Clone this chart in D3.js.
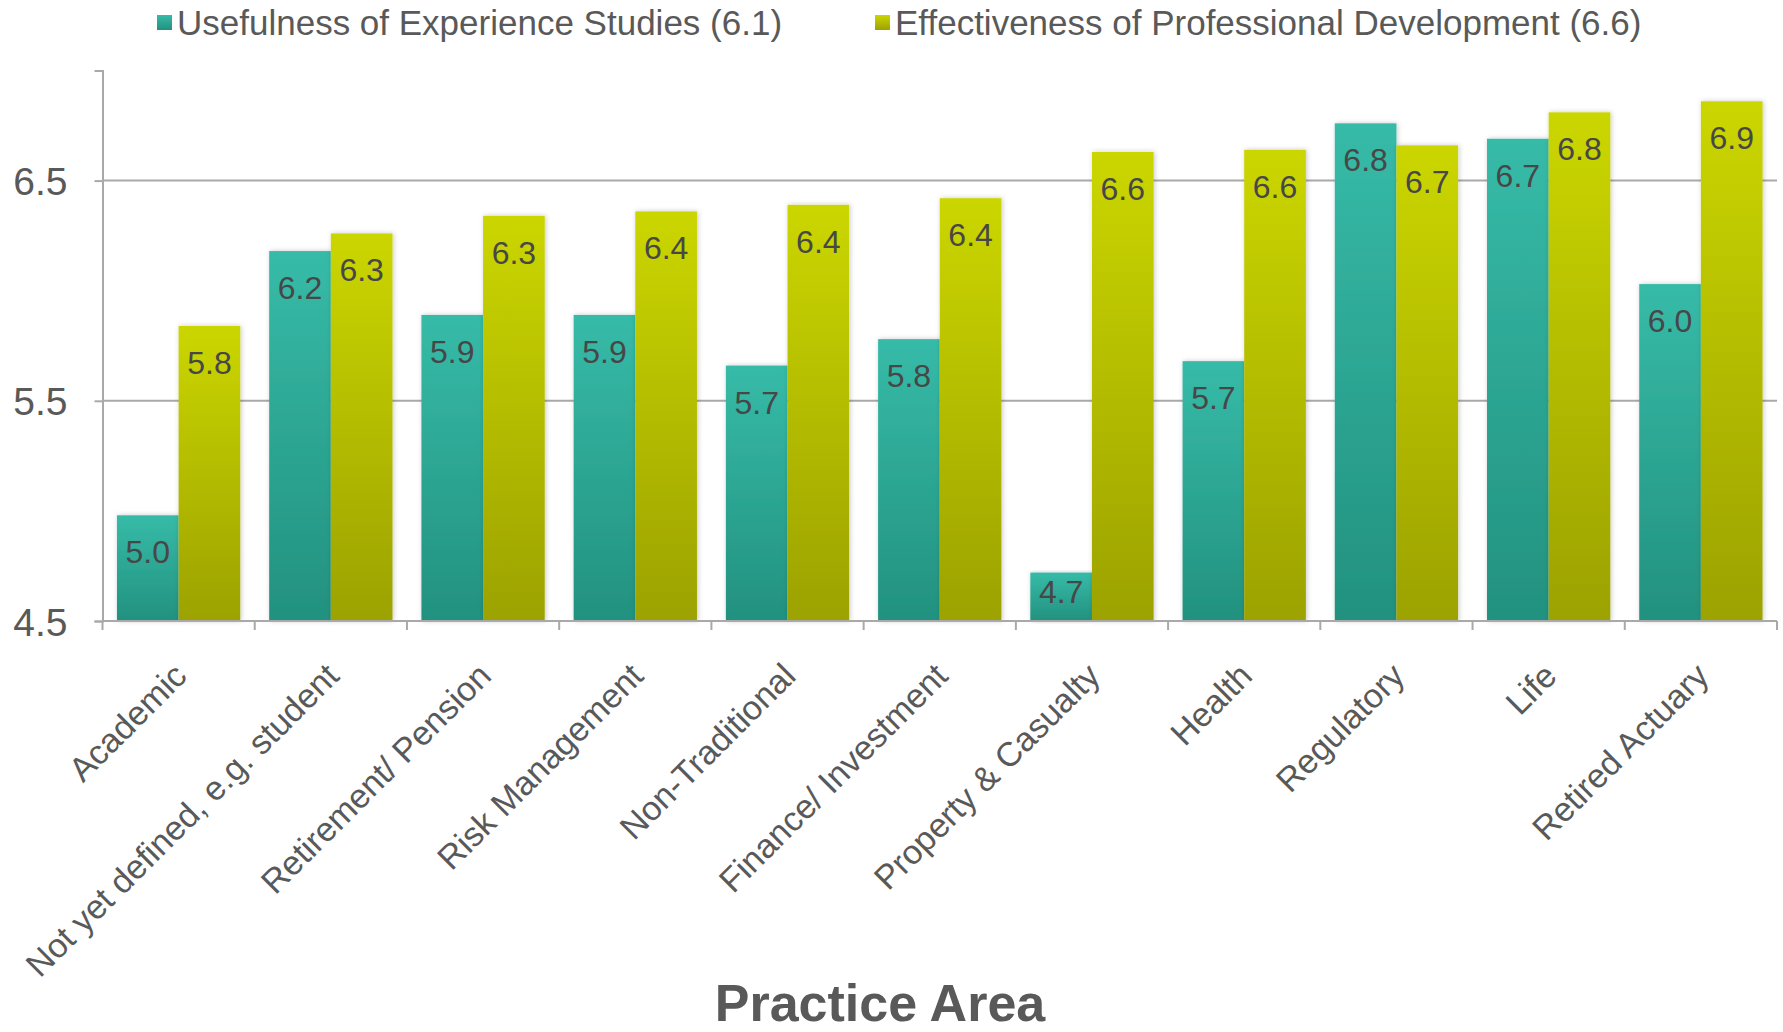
<!DOCTYPE html>
<html>
<head>
<meta charset="utf-8">
<script src="https://cdn.jsdelivr.net/npm/d3@7"></script>
<style>
  html, body { margin: 0; padding: 0; background: #ffffff; }
  svg { display: block; }
  text { font-family: "Liberation Sans", Arial, Helvetica, sans-serif; }
</style>
</head>
<body>
<div id="chart"></div>
<script>
const categories = ["Academic", "Not yet defined, e.g. student", "Retirement/ Pension", "Risk Management", "Non-Traditional", "Finance/ Investment", "Property & Casualty", "Health", "Regulatory", "Life", "Retired Actuary"];
const usefulness = [4.98, 6.18, 5.89, 5.89, 5.66, 5.78, 4.72, 5.68, 6.76, 6.69, 6.03];
const effectiveness = [5.84, 6.26, 6.34, 6.36, 6.39, 6.42, 6.63, 6.64, 6.66, 6.81, 6.86];
const seriesNames = ["Usefulness of Experience Studies (6.1)", "Effectiveness of Professional Development (6.6)"];
const yTicks = [4.5, 5.5, 6.5];
const yDomain = [4.5, 7.0];
const xTitle = "Practice Area";

const W = 1783, H = 1032;
const L = 102.5, R = 1777, T = 70.5, B = 621;

const svg = d3.select("#chart").append("svg").attr("width", W).attr("height", H);
svg.append("rect").attr("width", W).attr("height", H).attr("fill", "#fff");

const defs = svg.append("defs");
function grad(id, top, bottom) {
  const g = defs.append("linearGradient").attr("id", id).attr("x1", 0).attr("y1", 0).attr("x2", 0).attr("y2", 1);
  g.append("stop").attr("offset", "0%").attr("stop-color", top);
  g.append("stop").attr("offset", "100%").attr("stop-color", bottom);
}
grad("gTeal", "#36BBA8", "#23917F");
grad("gYel", "#CBD600", "#9CA200");
const f = defs.append("filter").attr("id", "shadow").attr("x", "-20%").attr("y", "-5%").attr("width", "140%").attr("height", "110%");
f.append("feDropShadow").attr("dx", 1).attr("dy", 0).attr("stdDeviation", 2.5).attr("flood-color", "#000").attr("flood-opacity", 0.22);

const series = [
  { name: seriesNames[0], values: usefulness, fill: "url(#gTeal)" },
  { name: seriesNames[1], values: effectiveness, fill: "url(#gYel)" }
];

const x0 = d3.scaleBand().domain(categories).range([L, R]).paddingInner(0.19).paddingOuter(0.095);
const x1 = d3.scaleBand().domain([0, 1]).range([0, x0.bandwidth()]);
const y = d3.scaleLinear().domain(yDomain).range([B, T]);
const step = x0.step();

// gridlines
svg.append("g").selectAll("line").data(yTicks.filter(t => t > yDomain[0])).join("line")
  .attr("x1", L).attr("x2", R).attr("y1", d => y(d)).attr("y2", d => y(d))
  .attr("stroke", "#A9A9A9").attr("stroke-width", 2);

// y axis
const yAxis = d3.axisLeft(y).tickValues(yTicks).tickSize(8).tickPadding(27).tickFormat(d3.format(".1f"));
const gy = svg.append("g").attr("transform", `translate(${L},0)`).call(yAxis);
gy.select(".domain").attr("stroke", "#A9A9A9").attr("stroke-width", 2);
gy.selectAll(".tick line").attr("stroke", "#A9A9A9").attr("stroke-width", 2);
gy.selectAll(".tick text").attr("fill", "#595959").attr("font-size", 39).attr("font-family", '"Liberation Sans", Arial, sans-serif').attr("dy", "0.36em");

// bars
const groups = svg.append("g").selectAll("g").data(categories).join("g")
  .attr("transform", d => `translate(${x0(d)},0)`);
series.forEach((s, si) => {
  groups.append("rect")
    .attr("x", x1(si)).attr("width", x1.bandwidth())
    .attr("y", (d, i) => y(s.values[i]))
    .attr("height", (d, i) => B - y(s.values[i]))
    .attr("fill", s.fill)
    .attr("filter", "url(#shadow)");
});
series.forEach((s, si) => {
  groups.append("text")
    .attr("x", x1(si) + x1.bandwidth() / 2)
    .attr("y", (d, i) => Math.min(y(s.values[i]) + 48, B - 18))
    .attr("text-anchor", "middle")
    .attr("font-size", 32)
    .attr("fill", "#474747")
    .text((d, i) => d3.format(".1f")(s.values[i]));
});

// x axis baseline and ticks
const xg = svg.append("g");
xg.append("line").attr("x1", L).attr("x2", R).attr("y1", B).attr("y2", B).attr("stroke", "#A9A9A9").attr("stroke-width", 2);
xg.selectAll("line.tk").data(d3.range(categories.length + 1)).join("line").attr("class", "tk")
  .attr("x1", i => L + i * step).attr("x2", i => L + i * step)
  .attr("y1", B).attr("y2", B + 9).attr("stroke", "#A9A9A9").attr("stroke-width", 2);

// x labels
xg.selectAll("text.xl").data(categories).join("text").attr("class", "xl")
  .attr("transform", d => `translate(${x0(d) + x0.bandwidth() / 2 + 10},${B + 57}) rotate(-45)`)
  .attr("text-anchor", "end")
  .attr("font-size", 34)
  .attr("fill", "#595959")
  .text(d => d);

// x title
svg.append("text").attr("x", 880).attr("y", 1021).attr("text-anchor", "middle")
  .attr("font-size", 52).attr("font-weight", "bold").attr("fill", "#595959")
  .text(xTitle);

// legend
const legendX = [157, 875];
const lg = svg.append("g").selectAll("g").data(series).join("g")
  .attr("transform", (d, i) => `translate(${legendX[i]},0)`);
lg.append("rect").attr("x", 0).attr("y", 15).attr("width", 15).attr("height", 15).attr("fill", d => d.fill);
lg.append("text").attr("x", 20).attr("y", 35).attr("font-size", 35).attr("fill", "#595959").text(d => d.name);
</script>
</body>
</html>
